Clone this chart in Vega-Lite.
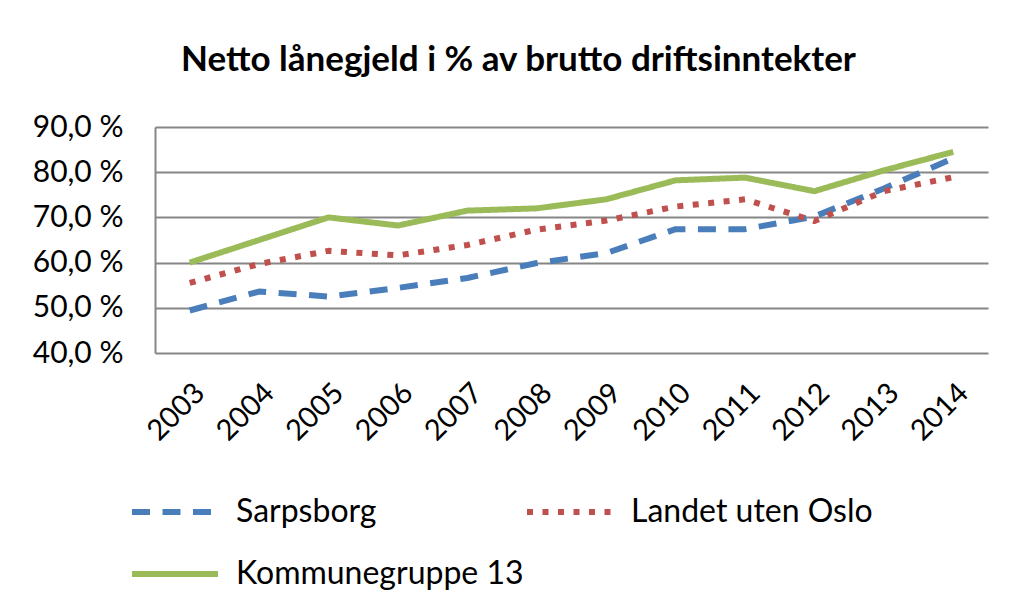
{
  "$schema": "https://vega.github.io/schema/vega-lite/v6.json",
  "width": 833,
  "height": 226,
  "autosize": {"type": "none"},
  "padding": {"left": 155, "top": 127, "right": 24, "bottom": 261},
  "background": "white",
  "title": {
    "text": "Netto lånegjeld i % av brutto driftsinntekter",
    "font": "Lato",
    "fontSize": 35,
    "fontWeight": "bold",
    "color": "#000000",
    "anchor": "middle",
    "dx": -53,
    "offset": 34
  },
  "data": {
    "values": [
      {"year": "2003", "series": "Sarpsborg", "value": 49.4},
      {"year": "2004", "series": "Sarpsborg", "value": 53.6},
      {"year": "2005", "series": "Sarpsborg", "value": 52.5},
      {"year": "2006", "series": "Sarpsborg", "value": 54.4},
      {"year": "2007", "series": "Sarpsborg", "value": 56.6},
      {"year": "2008", "series": "Sarpsborg", "value": 59.9},
      {"year": "2009", "series": "Sarpsborg", "value": 62.1},
      {"year": "2010", "series": "Sarpsborg", "value": 67.4},
      {"year": "2011", "series": "Sarpsborg", "value": 67.4},
      {"year": "2012", "series": "Sarpsborg", "value": 70.2},
      {"year": "2013", "series": "Sarpsborg", "value": 76.4},
      {"year": "2014", "series": "Sarpsborg", "value": 83.1},
      {"year": "2003", "series": "Landet uten Oslo", "value": 55.5},
      {"year": "2004", "series": "Landet uten Oslo", "value": 59.7},
      {"year": "2005", "series": "Landet uten Oslo", "value": 62.6},
      {"year": "2006", "series": "Landet uten Oslo", "value": 61.6},
      {"year": "2007", "series": "Landet uten Oslo", "value": 63.9},
      {"year": "2008", "series": "Landet uten Oslo", "value": 67.3},
      {"year": "2009", "series": "Landet uten Oslo", "value": 69.3},
      {"year": "2010", "series": "Landet uten Oslo", "value": 72.4},
      {"year": "2011", "series": "Landet uten Oslo", "value": 74.0},
      {"year": "2012", "series": "Landet uten Oslo", "value": 69.2},
      {"year": "2013", "series": "Landet uten Oslo", "value": 75.8},
      {"year": "2014", "series": "Landet uten Oslo", "value": 78.9},
      {"year": "2003", "series": "Kommunegruppe 13", "value": 60.0},
      {"year": "2004", "series": "Kommunegruppe 13", "value": 65.0},
      {"year": "2005", "series": "Kommunegruppe 13", "value": 70.0},
      {"year": "2006", "series": "Kommunegruppe 13", "value": 68.2},
      {"year": "2007", "series": "Kommunegruppe 13", "value": 71.5},
      {"year": "2008", "series": "Kommunegruppe 13", "value": 72.0},
      {"year": "2009", "series": "Kommunegruppe 13", "value": 74.0},
      {"year": "2010", "series": "Kommunegruppe 13", "value": 78.2},
      {"year": "2011", "series": "Kommunegruppe 13", "value": 78.8},
      {"year": "2012", "series": "Kommunegruppe 13", "value": 75.8},
      {"year": "2013", "series": "Kommunegruppe 13", "value": 80.4},
      {"year": "2014", "series": "Kommunegruppe 13", "value": 84.5}
    ]
  },
  "mark": {"type": "line", "strokeWidth": 6, "strokeCap": "butt", "strokeJoin": "round"},
  "encoding": {
    "x": {
      "field": "year",
      "type": "ordinal",
      "scale": {"type": "point", "padding": 0.5},
      "axis": {
        "title": null,
        "labelAngle": -45,
        "labelFont": "Lato",
        "labelFontSize": 29,
        "labelColor": "#000000",
        "labelPadding": 25,
        "ticks": false,
        "domain": false,
        "grid": false
      }
    },
    "y": {
      "field": "value",
      "type": "quantitative",
      "scale": {"domain": [40, 90], "nice": false, "zero": false},
      "axis": {
        "title": null,
        "values": [40, 50, 60, 70, 80, 90],
        "labelExpr": "replace(format(datum.value, '.1f'), '.', ',') + ' %'",
        "labelFont": "Lato",
        "labelFontSize": 30,
        "labelColor": "#000000",
        "labelPadding": 32,
        "ticks": false,
        "domain": true,
        "domainColor": "#868686",
        "domainWidth": 2,
        "grid": true,
        "gridColor": "#868686",
        "gridWidth": 2
      }
    },
    "color": {
      "field": "series",
      "type": "nominal",
      "scale": {
        "domain": ["Sarpsborg", "Landet uten Oslo", "Kommunegruppe 13"],
        "range": ["#4a7ebb", "#c0504d", "#9bbb59"]
      },
      "legend": {
        "title": null,
        "orient": "none",
        "direction": "horizontal",
        "legendX": -26,
        "legendY": 339,
        "columns": 2,
        "gridAlign": "none",
        "columnPadding": -9,
        "rowPadding": 0,
        "symbolType": "stroke",
        "symbolSize": 7396,
        "symbolStrokeWidth": 6,
        "labelFont": "Lato",
        "labelFontSize": 32,
        "labelColor": "#000000",
        "labelOffset": 15,
        "labelLimit": 400
      }
    },
    "strokeDash": {
      "field": "series",
      "type": "nominal",
      "scale": {
        "domain": ["Sarpsborg", "Landet uten Oslo", "Kommunegruppe 13"],
        "range": [[18, 12.5], [6, 9.5], [1, 0]]
      },
      "legend": null
    }
  },
  "config": {
    "view": {"stroke": null}
  }
}
